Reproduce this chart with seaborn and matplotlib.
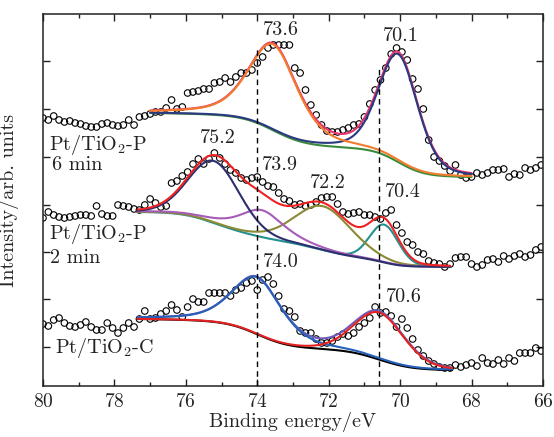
import numpy as np
import pandas as pd
import seaborn as sns
import matplotlib.pyplot as plt
from matplotlib.ticker import MultipleLocator

sns.set_theme(style='ticks')
plt.rcParams['font.family'] = ['cmr10', 'DejaVu Serif']
plt.rcParams['mathtext.fontset'] = 'cm'
plt.rcParams['axes.formatter.use_mathtext'] = True

# measured spectra (binding energy grid, intensity in arb. units)
energy = np.arange(80.0, 66.0, -0.15)

counts_6min = [277, 275, 279, 275, 273, 274, 272, 271, 269, 268, 268, 271, 272, 270, 269, 270, 275, 270, 278, 279,
               281, 283, 283, 287, 295, 286, 288, 302, 303, 304, 306, 306, 312, 313, 317, 313, 318, 322, 322, 325,
               332, 338, 347, 350, 350, 350, 350, 327, 322, 305, 290, 280, 270, 264, 263, 263, 265, 267, 270, 271,
               278, 291, 305, 315, 327, 341, 347, 343, 335, 316, 306, 286, 255, 238, 234, 229, 224, 230, 220, 217,
               218, 222, 220, 222, 225, 225, 226, 218, 221, 220, 227, 225, 227, 230]

counts_2min = [177, 183, 180, 178, 177, 178, 179, 180, 180, 179, 189, 181, 179, 179, 190, 189, 188, 186, 185, 190,
               196, 192, 188, 189, 212, 214, 219, 223, 231, 236, 231, 236, 242, 237, 231, 225, 222, 217, 215, 217,
               218, 213, 209, 208, 202, 196, 194, 190, 191, 189, 190, 193, 197, 198, 198, 191, 183, 181, 182, 183,
               180, 180, 178, 176, 182, 185, 170, 162, 153, 150, 143, 141, 134, 132, 131, 128, 131, 137, 138, 138,
               131, 128, 130, 135, 136, 133, 139, 136, 139, 141, 138, 140, 145, 148]

counts_c = [71, 69, 75, 77, 72, 69, 68, 70, 73, 68, 65, 65, 72, 67, 62, 67, 72, 68, 76, 84,
            76, 77, 81, 84, 90, 85, 78, 88, 96, 93, 93, 102, 102, 102, 102, 99, 105, 107, 112, 114,
            105, 115, 118, 111, 99, 86, 84, 78, 64, 62, 62, 56, 52, 52, 54, 58, 61, 59, 62, 68,
            72, 77, 88, 82, 83, 79, 68, 76, 67, 56, 45, 39, 34, 31, 28, 27, 27, 30, 28, 30,
            32, 29, 37, 32, 31, 35, 31, 37, 34, 42, 42, 42, 47, 44]

# fitted components: centre (eV), height, FWHM (eV), Lorentzian fraction, background step
fit_range_6min = (77.0, 68.0)
bg_low_6min = 218
center_6min = [73.55, 70.05]
height_6min = [86, 108]
fwhm_6min = [1.62, 1.3]
eta_6min = [0.5, 0.3]
step_6min = [35, 29]

fit_range_2min = (77.35, 68.6)
bg_low_2min = 128
center_2min = [75.2, 73.88, 72.15, 70.45]
height_2min = [62, 27, 44, 38]
fwhm_2min = [1.68, 1.5, 1.9, 0.95]
eta_2min = [0.1, 0.6, 0.2, 0.1]
step_2min = [21, 9, 18, 7]

fit_range_c = (77.35, 68.55)
bg_low_c = 25
center_c = [74.0, 70.58]
height_c = [57, 47]
fwhm_c = [1.65, 1.65]
eta_c = [0.5, 0.2]
step_c = [31, 20]

peak_labels = ['73.6', '70.1', '75.2', '73.9', '72.2', '70.4', '74.0', '70.6']
peak_label_x = [73.34, 69.99, 75.10, 73.38, 72.04, 69.93, 73.34, 69.90]
peak_label_y = [360, 354, 252, 225, 207, 198, 128, 93]

sample_labels = ['Pt/TiO$_2$-P', '6 min', 'Pt/TiO$_2$-P', '2 min', 'Pt/TiO$_2$-C']
sample_label_x = [79.83, 79.75, 79.83, 79.8, 79.66]
sample_label_y = [245, 225, 156, 132, 42]

dashed_x = [74.0, 70.6]
dashed_top = [348, 327]


def fit_curves(e_range, base, centers, heights, fwhms, etas, steps):
    e = np.linspace(e_range[1], e_range[0], 500)
    comps = []
    for c, h, w, eta in zip(centers, heights, fwhms, etas):
        x = (e - c) / w
        comps.append(h * (eta / (1 + 4 * x ** 2) + (1 - eta) * np.exp(-4 * np.log(2) * x ** 2)))
    bg = np.full_like(e, float(base))
    for p, s in zip(comps, steps):
        cum = np.cumsum(p)
        bg = bg + s * (cum - cum[0]) / (cum[-1] - cum[0])
    return e, bg, comps


fig = plt.figure(figsize=(5.54, 4.37), dpi=100)
ax = fig.add_axes([0.0776, 0.1167, 0.9025, 0.8513])

spectra = pd.DataFrame({'energy': np.concatenate([energy] * 3),
                        'counts': counts_6min + counts_2min + counts_c})
sns.scatterplot(data=spectra, x='energy', y='counts', ax=ax, marker='o', s=22,
                facecolor='none', edgecolor='black', linewidth=0.8, zorder=2)


def line(x, y, color):
    sns.lineplot(x=x, y=y, ax=ax, color=color, lw=1.5, estimator=None, zorder=3)


# 6 min
e, bg, (p1, p2) = fit_curves(fit_range_6min, bg_low_6min, center_6min, height_6min, fwhm_6min, eta_6min, step_6min)
line(e, bg, '#3a8a3a')
line(e, bg + p1 + p2, '#e8336d')
line(e, bg + p2, '#2b3a80')
line(e, bg + p1, '#f37b2e')

# 2 min
e, bg, (q1, q2, q3, q4) = fit_curves(fit_range_2min, bg_low_2min, center_2min, height_2min, fwhm_2min, eta_2min, step_2min)
line(e, bg + q4, '#239090')
line(e, bg + q3, '#8a8a35')
line(e, bg + q2, '#a65bb8')
line(e, bg + q1, '#2c2f6e')
line(e, bg + q1 + q2 + q3 + q4, '#ee2222')

# commercial
e, bg, (r1, r2) = fit_curves(fit_range_c, bg_low_c, center_c, height_c, fwhm_c, eta_c, step_c)
line(e, bg, 'black')
line(e, bg + r1 + r2, '#6c5bb8')
line(e, bg + r1, '#2660b8')
line(e, bg + r2, '#e52222')

ax.vlines(dashed_x, 9, dashed_top, colors='black', linestyles=(0, (4, 3)), lw=1.0, zorder=4)

for t, x, y in zip(peak_labels, peak_label_x, peak_label_y):
    ax.text(x, y, t, ha='center', va='baseline', fontsize=14.5, color='#222222')
for t, x, y in zip(sample_labels, sample_label_x, sample_label_y):
    ax.text(x, y, t, ha='left', va='baseline', fontsize=14.5, color='#222222')

ax.set_xlim(80, 66)
ax.set_ylim(9, 381)
ax.xaxis.set_major_locator(MultipleLocator(2))
ax.xaxis.set_minor_locator(MultipleLocator(1))
ax.set_yticks([48, 96, 143, 190, 238, 286, 334])
ax.set_yticklabels([])
ax.tick_params(which='both', direction='in', top=True, right=True, width=1.0, colors='#222222')
ax.tick_params(which='major', length=5, labelsize=14, pad=5)
ax.tick_params(which='minor', length=3)
for sp in ax.spines.values():
    sp.set_linewidth(1.1)
    sp.set_color('#222222')
ax.set_xlabel('Binding energy/eV', fontsize=14.5, labelpad=1)
ax.set_ylabel('Intensity/arb. units', fontsize=14.5, labelpad=12)

fig.savefig('out.png', dpi=100)
